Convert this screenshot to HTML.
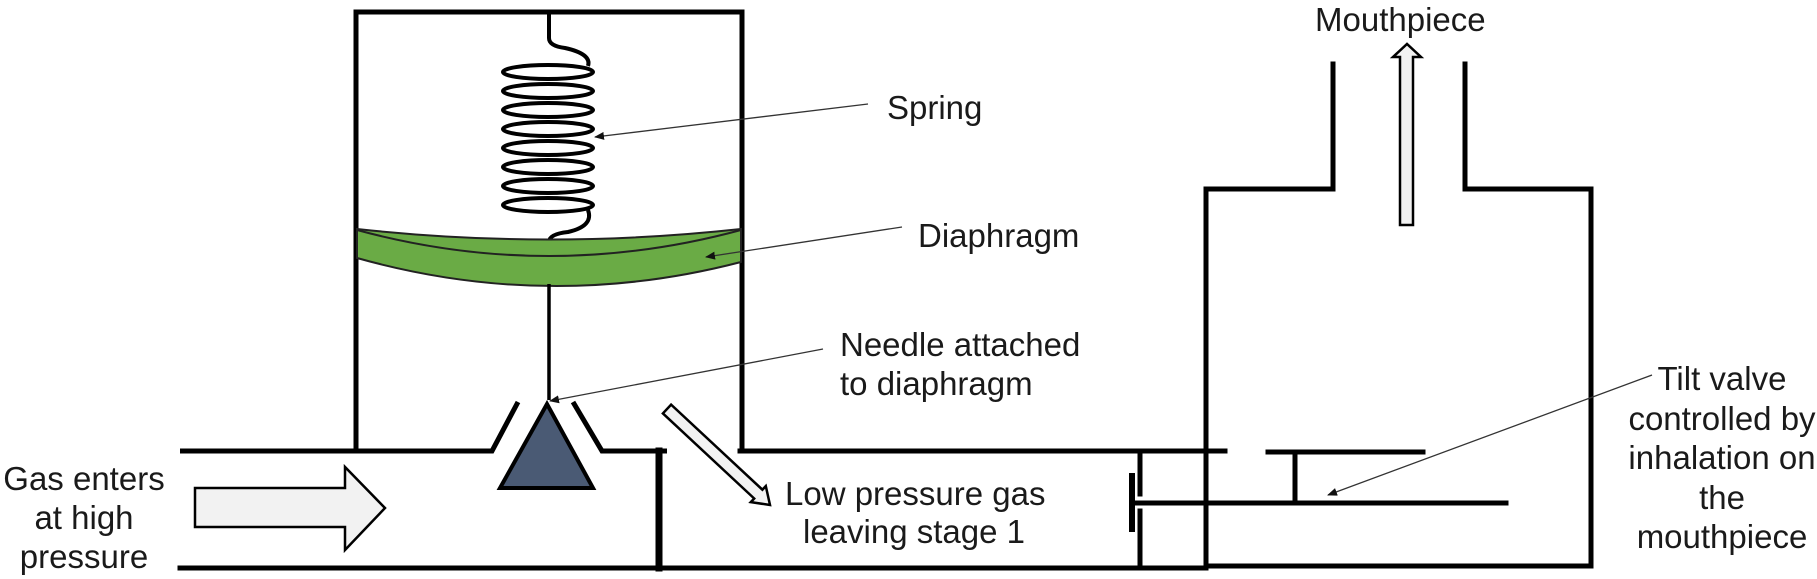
<!DOCTYPE html>
<html><head><meta charset="utf-8"><style>
html,body{margin:0;padding:0;background:#fff;width:1817px;height:579px;overflow:hidden}
svg{display:block}
text{font-family:"Liberation Sans",Arial,sans-serif;font-size:33px;fill:#1a1a1a}
</style></head><body>
<svg width="1817" height="579" viewBox="0 0 1817 579" xmlns="http://www.w3.org/2000/svg">
<defs>
<marker id="ah" markerWidth="10" markerHeight="8" refX="9" refY="4" orient="auto" markerUnits="userSpaceOnUse">
<path d="M0,0 L10,4 L0,8 z" fill="#111"/>
</marker>
</defs>
<g stroke="#000" stroke-width="5" fill="none" stroke-linecap="square">
<polyline points="356,451 356,12 742,12 742,451"/>
<polyline points="180,451 492,451 518,402" stroke-linecap="butt"/>
<polyline points="573,402 602,451 667,451" stroke-linecap="butt"/>
<line x1="740" y1="451" x2="1225" y2="451"/>
<line x1="180" y1="568" x2="1206" y2="568"/>
<line x1="659" y1="451" x2="659" y2="568" stroke-width="7"/>
<line x1="1140" y1="452" x2="1140" y2="494"/>
<line x1="1140" y1="511" x2="1140" y2="568"/>
<line x1="1132" y1="476" x2="1132" y2="529" stroke-width="6"/>
<line x1="1137" y1="503" x2="1506" y2="503"/>
<line x1="1268" y1="452" x2="1423" y2="452"/>
<line x1="1295" y1="452" x2="1295" y2="503"/>
<polyline points="1206,568 1206,189 1333,189 1333,64"/>
<polyline points="1465,64 1465,189 1591,189 1591,566 1206,566"/>
</g>
<g stroke="#000" stroke-width="4" fill="none">
<path d="M549,12 L549,38 Q549,46 565,48 Q592,54 588,66"/>
<ellipse cx="548" cy="72" rx="45" ry="7"/>
<ellipse cx="548" cy="91" rx="45" ry="7"/>
<ellipse cx="548" cy="110" rx="45" ry="7"/>
<ellipse cx="548" cy="129" rx="45" ry="7"/>
<ellipse cx="548" cy="148" rx="45" ry="7"/>
<ellipse cx="548" cy="167" rx="45" ry="7"/>
<ellipse cx="548" cy="186" rx="45" ry="7"/>
<ellipse cx="548" cy="205" rx="45" ry="7"/>
<path d="M588,210 Q594,226 568,232 Q549,234 549,242 L549,250"/>
</g>
<path d="M357,229 Q549,250 741,229 L741,262 Q549,312 357,258 Z" fill="#6aab45" stroke="#222" stroke-width="2"/>
<path d="M357,230 Q549,282 741,230" fill="none" stroke="#222" stroke-width="2"/>
<line x1="549" y1="284" x2="549" y2="400" stroke="#000" stroke-width="3.5"/>
<polygon points="547,404 500,488 593,488" fill="#4a5a74" stroke="#000" stroke-width="4"/>
<polygon points="195,488 345,488 345,467 385,508 345,550 345,527 195,527" fill="#f2f2f2" stroke="#000" stroke-width="2.5"/>
<polygon points="662.9,413.4 754.2,498.5 750.8,502.1 770,505 765.8,486.1 762.4,489.7 671.1,404.6" fill="#f2f2f2" stroke="#000" stroke-width="2.5"/>
<polygon points="1400,225 1413,225 1413,57 1421,57 1407,44 1393,57 1400,57" fill="#f2f2f2" stroke="#000" stroke-width="2.5"/>
<g stroke="#333" stroke-width="1.3" fill="none" marker-end="url(#ah)">
<line x1="868" y1="104" x2="595" y2="137"/>
<line x1="902" y1="227" x2="706" y2="257"/>
<line x1="823" y1="349" x2="550" y2="401"/>
<line x1="1652" y1="375" x2="1328" y2="495"/>
</g>
<text x="887" y="119">Spring</text>
<text x="918" y="247">Diaphragm</text>
<text x="840" y="356">Needle attached</text>
<text x="840" y="395">to diaphragm</text>
<text x="785" y="505">Low pressure gas</text>
<text x="803" y="543">leaving stage 1</text>
<text x="1315" y="31">Mouthpiece</text>
<g text-anchor="middle">
<text x="84" y="490">Gas enters</text>
<text x="84" y="529">at high</text>
<text x="84" y="568">pressure</text>
<text x="1722" y="390">Tilt valve</text>
<text x="1722" y="430">controlled by</text>
<text x="1722" y="469">inhalation on</text>
<text x="1722" y="509">the</text>
<text x="1722" y="548">mouthpiece</text>
</g>
</svg>
</body></html>
